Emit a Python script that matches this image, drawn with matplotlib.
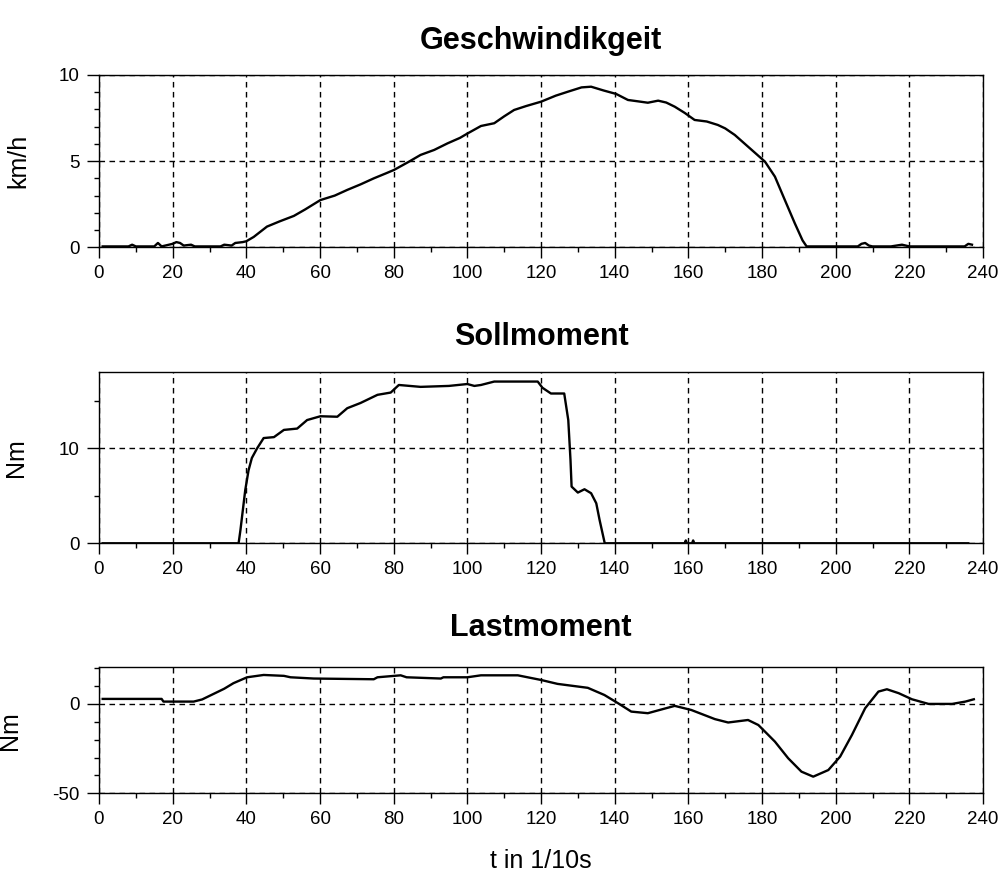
import matplotlib
matplotlib.use("Agg")
import matplotlib.pyplot as plt
from matplotlib.ticker import MultipleLocator, FixedLocator

plt.rcParams['font.family'] = ['Liberation Sans', 'DejaVu Sans']
plt.rcParams['axes.unicode_minus'] = False

# Geschwindigkeit (km/h) over t in 1/10 s
t_speed = [1, 8, 9, 10, 15, 16, 17, 20, 21, 22, 23, 25, 26, 33, 34, 36, 37, 39, 40, 42,
           45.6, 49, 52.9, 56, 60.1, 64, 67.4, 71, 74.6, 78, 80.1, 84, 87.3, 91, 94.6, 98,
           100, 103.7, 107.3, 110, 112.7, 116, 120, 124, 127.3, 131, 133.6, 137, 140.4,
           143.6, 146, 149, 151.8, 154, 156.3, 159, 161.7, 165, 168, 170, 172.6, 176.2, 178,
           180.8, 183.5, 186.2, 188.9, 191, 192.1, 206, 207, 208, 209, 210, 215, 218, 219,
           220, 235, 236, 237]
speed = [0.05, 0.05, 0.15, 0.05, 0.05, 0.25, 0.05, 0.2, 0.3, 0.25, 0.1, 0.15, 0.05, 0.05,
         0.15, 0.1, 0.25, 0.3, 0.35, 0.6, 1.2, 1.5, 1.82, 2.2, 2.74, 3.0, 3.33, 3.65, 4.0,
         4.3, 4.49, 4.95, 5.36, 5.65, 6.03, 6.35, 6.6, 7.04, 7.2, 7.6, 7.97, 8.2, 8.45, 8.8,
         9.03, 9.28, 9.32, 9.1, 8.9, 8.55, 8.48, 8.39, 8.51, 8.4, 8.16, 7.8, 7.39, 7.3, 7.1,
         6.9, 6.52, 5.84, 5.5, 4.97, 4.1, 2.74, 1.39, 0.4, 0.05, 0.05, 0.2, 0.25, 0.1, 0.05,
         0.05, 0.15, 0.1, 0.05, 0.05, 0.2, 0.15]

# Sollmoment (Nm)
t_soll = [1, 37.9, 38.4, 39.7, 40.6, 41.5, 42.9, 44.7, 47.5, 50.2, 53.8, 56.5, 60.1, 64.7,
          67.4, 71, 75.6, 79.2, 81.4, 87.3, 95, 100, 101.9, 103.7, 107.3, 119.1, 120.4,
          122.7, 126.3, 127.4, 128, 128.3, 130, 131.8, 133.6, 135, 135.9, 137.3, 159,
          159.3, 159.6, 161, 161.3, 161.6, 236]
soll = [0, 0, 1.4, 5.6, 7.7, 9.0, 10.0, 11.1, 11.2, 11.96, 12.1, 13.0, 13.4, 13.35, 14.25,
        14.8, 15.66, 15.9, 16.7, 16.5, 16.6, 16.8, 16.6, 16.7, 17.06, 17.06, 16.4, 15.8,
        15.8, 13.0, 8.8, 5.98, 5.35, 5.7, 5.28, 4.22, 2.46, 0, 0, 0.3, 0, 0, 0.3, 0, 0]

# Lastmoment (Nm)
t_last = [1, 17, 17.5, 25.7, 28, 31.1, 34, 36.5, 40.2, 44.7, 50.2, 52, 58.3, 74.6, 75.6,
          81.9, 83.5, 92.8, 93.5, 100, 103.7, 113.7, 120, 124.5, 132.7, 137.2, 140.9, 144.5,
          149, 152, 156.3, 160.8, 167.2, 170.8, 176.2, 179, 180.8, 183.5, 187.1, 190.7,
          193.9, 198, 201.2, 204.4, 208, 211.6, 213.9, 217.1, 220.7, 225.2, 231.6, 235.2,
          237.5]
last = [2.8, 2.8, 1.3, 1.3, 2.5, 5.6, 8.5, 11.6, 14.9, 16.2, 15.7, 14.9, 14.2, 13.8, 14.9,
        16.0, 14.9, 14.2, 14.9, 14.9, 16.0, 16.0, 13.4, 11.2, 9.0, 5.0, 0.4, -4.3, -5.2,
        -3.5, -1.1, -3.4, -8.5, -10.4, -9.0, -11.8, -15.5, -21.1, -30.4, -37.9, -40.7,
        -37.0, -29.5, -17.4, -2.4, 6.9, 8.2, 6.0, 2.6, 0, 0, 1.3, 2.6]

fig = plt.figure(figsize=(10.03, 8.75), dpi=100)

panels = [
    # (rect, title, title pad, ylabel, x, y, ylim, major y, minor y, label x)
    ([0.0987, 0.7174, 0.8814, 0.1969], 'Geschwindikgeit', 19, 'km/h', t_speed, speed,
     (0, 10), [0, 5, 10], [1, 2, 3, 4, 6, 7, 8, 9], -0.078),
    ([0.0987, 0.3791, 0.8814, 0.1961], 'Sollmoment', 19.5, 'Nm', t_soll, soll,
     (0, 18.1), [0, 10], [5, 15], -0.080),
    ([0.0987, 0.0934, 0.8814, 0.1440], 'Lastmoment', 22.5, 'Nm', t_last, last,
     (-50, 20.5), [-50, 0], [-40, -30, -20, -10, 10, 20], -0.087),
]

for rect, title, tpad, ylab, x, y, ylim, ymaj, ymin, lx in panels:
    ax = fig.add_axes(rect)
    ax.plot(x, y, color='black', lw=1.7, zorder=3)
    ax.set_xlim(0, 240)
    ax.set_ylim(*ylim)
    ax.xaxis.set_major_locator(MultipleLocator(20))
    ax.xaxis.set_minor_locator(MultipleLocator(10))
    ax.yaxis.set_major_locator(FixedLocator(ymaj))
    ax.yaxis.set_minor_locator(FixedLocator(ymin))
    ax.grid(True, which='major', color='black', lw=1.0, ls=(0, (4, 3.2)))
    ax.tick_params(which='major', direction='out', length=8, width=1,
                   labelsize=13.5, pad=5)
    ax.tick_params(which='minor', direction='out', length=3.8, width=1)
    ax.tick_params(axis='y', which='major', length=9)
    for s in ax.spines.values():
        s.set_linewidth(1.0)
    ax.set_title(title, fontsize=22, fontweight='bold', pad=tpad)
    ax.set_ylabel(ylab, fontsize=18)
    ax.yaxis.set_label_coords(lx, 0.5)

ax.set_xlabel('t in 1/10s', fontsize=18, labelpad=15)

fig.savefig('out.png', dpi=100)
